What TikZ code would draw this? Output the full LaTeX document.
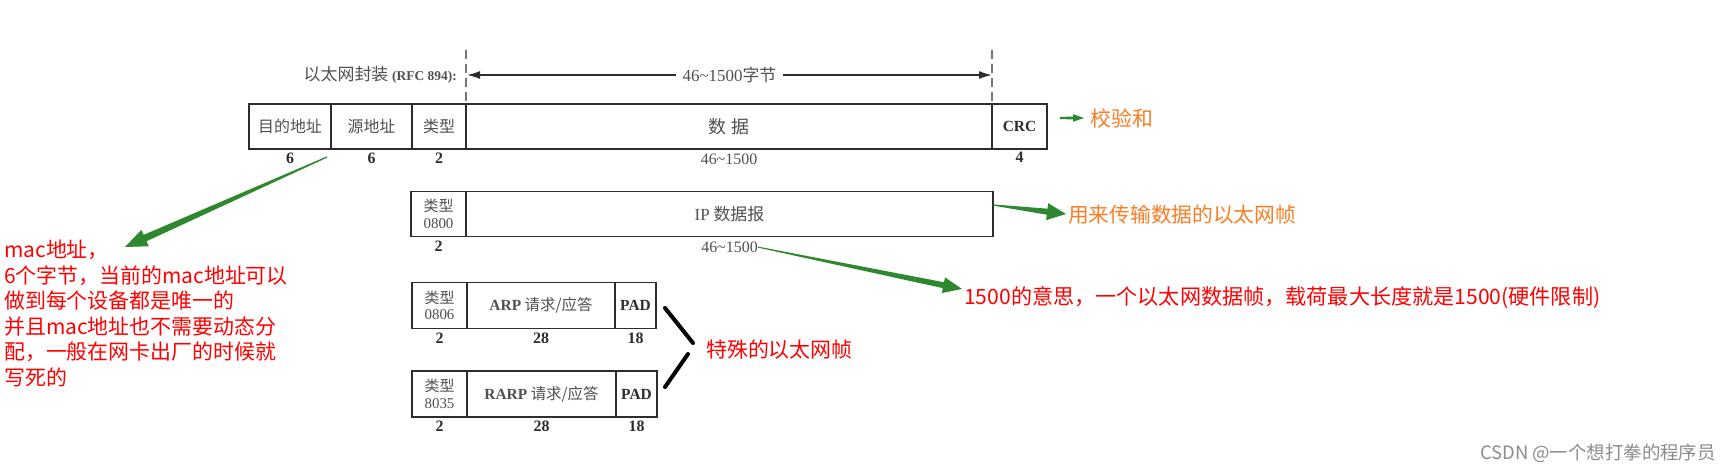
\documentclass[tikz,border=0pt]{standalone}
\usepackage{fontspec}
\setmainfont{Liberation Serif}
\newfontfamily\cjk{Noto Sans CJK SC}
\usetikzlibrary{positioning,calc,arrows.meta}
\definecolor{scanline}{RGB}{45,45,45}
\definecolor{scantext}{RGB}{80,80,80}
\definecolor{notered}{RGB}{255,0,0}
\definecolor{noteorange}{RGB}{250,125,35}
\definecolor{arrowgreen}{RGB}{47,135,47}
\definecolor{markgray}{RGB}{140,140,140}

% tapered green arrow: tail, tip, head length, head half width, shaft half width (head, tail)
\newcommand{\fatarrow}[6]{%
  \coordinate (fa-base) at ($(#2)!#3!(#1)$);
  \fill[arrowgreen] ($(#1)!#6!90:(#2)$) -- ($(fa-base)!#5!-90:(#1)$)
    -- ($(fa-base)!#4!-90:(#1)$) -- (#2) -- ($(fa-base)!#4!90:(#1)$)
    -- ($(fa-base)!#5!90:(#1)$) -- ($(#1)!#6!-90:(#2)$) -- cycle;
}

\begin{document}
\begin{tikzpicture}[x=1bp,y=-1bp,
    field/.style={draw=scanline, line width=1.5bp, outer sep=0pt, inner sep=0pt,
      minimum height=45bp, text=scantext, font=\cjk\fontsize{16}{16}\selectfont},
    typebox/.style={field, minimum width=55bp, align=center,
      font=\fontsize{15}{16.5}\selectfont},
    bold/.style={font=\fontsize{15.5}{15.5}\selectfont\bfseries, text=scanline},
    num/.style={inner sep=0pt, text=scanline, font=\fontsize{16}{16}\selectfont\bfseries},
    len/.style={inner sep=0pt, text=scantext, font=\fontsize{16}{16}\selectfont},
    note/.style={inner sep=0pt, anchor=west, font=\cjk\fontsize{21}{25.6}\selectfont},
    dashline/.style={draw=scanline, line width=1.3bp, dash pattern=on 9bp off 5bp},
    lenarrow/.style={{Latex[length=13bp,width=8bp]}-{Latex[length=13bp,width=8bp]},
      draw=scanline, line width=1.3bp},
    brace/.style={line width=4bp, line cap=round, black}]

  \useasboundingbox (0,0) rectangle (1734,476);
  \fill[white] (0,0) rectangle (1734,476);

  % Ethernet frame (RFC 894)
  \node[field, minimum width=82bp] (dst) at (290,126.5) {目的地址};
  \node[field, minimum width=81bp, right=0pt of dst] (src) {源地址};
  \node[field, minimum width=54bp, right=0pt of src] (type) {类型};
  \node[field, minimum width=526bp, right=0pt of type,
    font=\cjk\fontsize{18}{18}\selectfont] (data) {数\hspace{5bp}据};
  \node[field, bold, minimum width=55bp, right=0pt of data] (crc) {CRC};

  \node[num, below=4bp of dst] (dstlen) {6};
  \node[num, below=4bp of src] (srclen) {6};
  \node[num, below=4bp of type] (typelen) {2};
  \node[len, below=5bp of data] (datalen) {46\textasciitilde1500};
  \node[num, below=3bp of crc] (crclen) {4};

  % 46~1500 byte range
  \coordinate (dashL) at (466,50);
  \coordinate (dashR) at (992,50);
  \coordinate (lenL) at (467,75);
  \coordinate (lenR) at (992,75);
  \draw[dashline] (dashL) -- (type.north east);
  \draw[dashline] (dashR) -- (data.north east);
  \draw[lenarrow] (lenL) -- node[fill=white, inner xsep=7bp, text=scantext,
    font=\fontsize{17}{17}\selectfont] (lenlabel) {46\textasciitilde1500{\cjk 字节}} (lenR);
  \node[anchor=east, inner sep=0pt, text=scantext, font=\cjk\fontsize{17}{17}\selectfont,
    left=10bp of lenL] (rfc) {以太网封装 {\rmfamily\bfseries\fontsize{13.5}{13.5}\selectfont (RFC 894):}};

  % IP datagram
  \node[typebox] (iptype) at (438.5,214) {{\cjk 类型}\\0800};
  \node[field, minimum width=527bp, right=0pt of iptype,
    font=\cjk\fontsize{17}{17}\selectfont] (ip) {{\rmfamily IP} 数据报};
  \node[num, below=4bp of iptype] (iptypelen) {2};
  \node[len, below=5bp of ip] (iplen) {46\textasciitilde1500};

  % ARP request/reply
  \node[typebox, minimum height=46bp] (arptype) at (439.5,305.5) {{\cjk 类型}\\0806};
  \node[field, minimum height=46bp, minimum width=148bp, right=0pt of arptype,
    font=\cjk\fontsize{15.5}{15.5}\selectfont] (arp)
    {{\rmfamily\bfseries ARP} 请求/应答\hspace{22bp}};
  \node[field, bold, minimum height=46bp, minimum width=41bp, right=0pt of arp] (arppad) {PAD};
  \node[num, below=4bp of arptype] (arptypelen) {2};
  \node[num, below=4bp of arp] (arplen) {28};
  \node[num, below=4bp of arppad] (arppadlen) {18};

  % RARP request/reply
  \node[typebox, minimum height=46bp] (rarptype) at (439.5,394) {{\cjk 类型}\\8035};
  \node[field, minimum height=46bp, minimum width=149bp, right=0pt of rarptype,
    font=\cjk\fontsize{15.5}{15.5}\selectfont] (rarp)
    {{\rmfamily\bfseries RARP} 请求/应答\hspace{22bp}};
  \node[field, bold, minimum height=46bp, minimum width=41bp, right=0pt of rarp] (rarppad) {PAD};
  \node[num, below=4bp of rarptype] (rarptypelen) {2};
  \node[num, below=4bp of rarp] (rarplen) {28};
  \node[num, below=4bp of rarppad] (rarppadlen) {18};

  % Notes
  \node[note, text=noteorange] (crcnote) at (1090,118) {校验和};
  \node[note, text=noteorange, font=\cjk\fontsize{20.8}{20.8}\selectfont] (ipnote) at (1068,215)
    {用来传输数据的以太网帧};
  \node[note, text=notered, font=\cjk\fontsize{21.2}{21.2}\selectfont] (lennote) at (964,298)
    {1500的意思，一个以太网数据帧，载荷最大长度就是1500(硬件限制)};
  \node[note, text=notered] (specnote) at (706,350) {特殊的以太网帧};
  \node[note, anchor=north west, align=left, text=notered] (macnote) at (4,240)
    {mac地址，\\6个字节，当前的mac地址可以\\做到每个设备都是唯一的\\并且mac地址也不需要动态分\\配，一般在网卡出厂的时候就\\写死的};

  % Green arrows
  \coordinate (mactail) at (327,157);
  \coordinate (mactip) at (125,247);
  \coordinate (iptail) at (993,205);
  \coordinate (iptip) at (1066,214);
  \coordinate (lentip) at (962,289);
  \coordinate (crctail) at (1060,118);
  \coordinate (crctip) at (1084,118);
  \fatarrow{mactail}{mactip}{22bp}{9bp}{3.5bp}{0.6bp}
  \fatarrow{iptail}{iptip}{19bp}{8.5bp}{3bp}{0.6bp}
  \fatarrow{iplen.east}{lentip}{19bp}{8bp}{3bp}{0.5bp}
  \fatarrow{crctail}{crctip}{11bp}{3.8bp}{1.3bp}{1.2bp}

  % Bracket for the special frames
  \coordinate (br1) at (665,308);
  \coordinate (br2) at (693,343);
  \coordinate (br3) at (688,354);
  \coordinate (br4) at (665,387);
  \draw[brace] (br1) -- (br2);
  \draw[brace] (br3) -- (br4);

  \node[anchor=east, inner sep=0pt, text=markgray, font=\cjk\fontsize{18.5}{18.5}\selectfont]
    (mark) at (1716,453) {CSDN @一个想打拳的程序员};
\end{tikzpicture}
\end{document}
